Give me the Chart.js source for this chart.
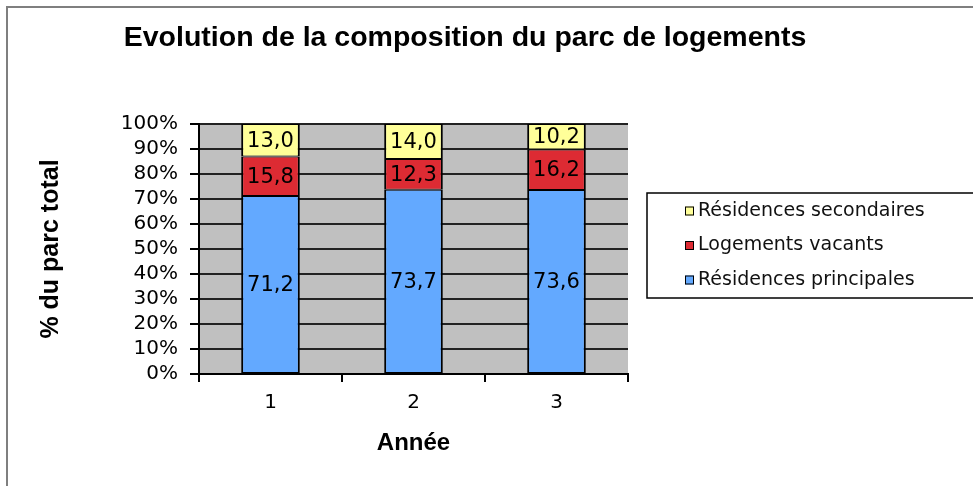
<!DOCTYPE html>
<html>
<head>
<meta charset="utf-8">
<script src="https://cdn.jsdelivr.net/npm/chart.js@4/dist/chart.umd.min.js"></script>
<style>
  body { margin: 0; background: #fff; }
  canvas { display: block; }
</style>
</head>
<body>
<canvas id="myChart" width="973" height="486"></canvas>
<script>
// DATA (percent of housing stock)
const years = ["1", "2", "3"];
const principales = [71.2, 73.7, 73.6];
const vacants = [15.8, 12.3, 16.2];
const secondaires = [13.0, 14.0, 10.2];
const seriesNames = ["Résidences principales", "Logements vacants", "Résidences secondaires"];
const seriesColors = ["#63a9ff", "#dd2b33", "#ffff99"];
const chartTitle = "Evolution de la composition du parc de logements";

Chart.defaults.font.family = "'DejaVu Sans', Verdana, sans-serif";
Chart.defaults.color = "#000";

// gray plot area + outer frame + title
const backdrop = {
  id: "backdrop",
  beforeDraw(chart) {
    const { ctx, chartArea: a } = chart;
    ctx.save();
    ctx.fillStyle = "#c0c0c0";
    ctx.fillRect(a.left, a.top, a.width, a.height);
    ctx.strokeStyle = "#7f7f7f";
    ctx.lineWidth = 2;
    ctx.beginPath();
    ctx.moveTo(7, chart.height);
    ctx.lineTo(7, 7);
    ctx.lineTo(chart.width, 7);
    ctx.stroke();
    ctx.fillStyle = "#000";
    ctx.font = "bold 28.5px 'Liberation Sans', Arial, sans-serif";
    ctx.textAlign = "center";
    ctx.textBaseline = "middle";
    ctx.fillText(chartTitle, 465, 38);
    ctx.restore();
  },
};

// values written inside each segment, french decimal comma
const valueLabels = {
  id: "valueLabels",
  afterDatasetsDraw(chart) {
    const ctx = chart.ctx;
    ctx.save();
    ctx.font = "21px 'DejaVu Sans', Verdana, sans-serif";
    ctx.fillStyle = "#000";
    ctx.textAlign = "center";
    ctx.textBaseline = "middle";
    chart.data.datasets.forEach((ds, i) => {
      chart.getDatasetMeta(i).data.forEach((bar, j) => {
        const y = (bar.y + bar.base) / 2;
        ctx.fillText(ds.data[j].toFixed(1).replace(".", ","), bar.x, y + 1);
      });
    });
    ctx.restore();
  },
};

// boxed legend on the right, reversed order like Excel
const boxLegend = {
  id: "boxLegend",
  afterDraw(chart) {
    const ctx = chart.ctx;
    const x = 647, y = 193, h = 105;
    ctx.save();
    ctx.strokeStyle = "#000";
    ctx.lineWidth = 1.5;
    ctx.strokeRect(x, y, chart.width - x + 10, h);
    ctx.font = "19px 'DejaVu Sans', Verdana, sans-serif";
    ctx.textAlign = "left";
    ctx.textBaseline = "middle";
    const items = chart.data.datasets.slice().reverse();
    items.forEach((ds, i) => {
      const cy = y + 18 + i * 34.5;
      ctx.fillStyle = ds.backgroundColor;
      ctx.fillRect(685, cy - 4.5, 9, 9);
      ctx.strokeStyle = "#000";
      ctx.lineWidth = 1;
      ctx.strokeRect(685.5, cy - 4, 8, 8);
      ctx.fillStyle = "#111";
      ctx.fillText(ds.label, 698, cy);
    });
    ctx.restore();
  },
};

let ctx = document.getElementById("myChart").getContext("2d");
var myChart = new Chart(ctx, {
  type: "bar",
  data: {
    labels: years,
    datasets: [
      { label: seriesNames[0], data: principales, backgroundColor: seriesColors[0] },
      { label: seriesNames[1], data: vacants, backgroundColor: seriesColors[1] },
      { label: seriesNames[2], data: secondaires, backgroundColor: seriesColors[2] },
    ],
  },
  options: {
    responsive: false,
    animation: false,
    layout: { padding: { left: 0, right: 345, top: 124, bottom: 0 } },
    datasets: {
      bar: {
        borderColor: "#000",
        borderWidth: { top: 1, bottom: 1, left: 2, right: 2 },
        borderSkipped: false,
        categoryPercentage: 1,
        barPercentage: 0.41,
      },
    },
    plugins: {
      legend: { display: false },
      tooltip: { enabled: false },
    },
    scales: {
      x: {
        stacked: true,
        afterFit: (s) => { s.height = 112; },
        grid: { drawOnChartArea: false, offset: true, tickLength: 8, color: "#000", lineWidth: 2 },
        border: { color: "#000", width: 2 },
        ticks: { color: "#000", font: { size: 20 }, padding: 9 },
        title: {
          display: true,
          text: "Année",
          color: "#000",
          font: { family: "'Liberation Sans', Arial, sans-serif", size: 24, weight: "bold" },
          padding: { top: 0, bottom: 28 },
        },
      },
      y: {
        stacked: true,
        min: 0,
        max: 100,
        afterFit: (s) => { s.width = 199; },
        grid: { color: "#222", lineWidth: 2, tickLength: 9, tickColor: "#000" },
        border: { color: "#000", width: 2 },
        ticks: {
          stepSize: 10,
          autoSkip: false,
          color: "#000",
          font: { size: 20 },
          padding: 12,
          callback: (v) => v + "%",
        },
        title: {
          display: true,
          text: "% du parc total",
          color: "#000",
          font: { family: "'Liberation Sans', Arial, sans-serif", size: 25, weight: "bold" },
          padding: { top: 36, bottom: 0 },
        },
      },
    },
  },
  plugins: [backdrop, valueLabels, boxLegend],
});
</script>
</body>
</html>
